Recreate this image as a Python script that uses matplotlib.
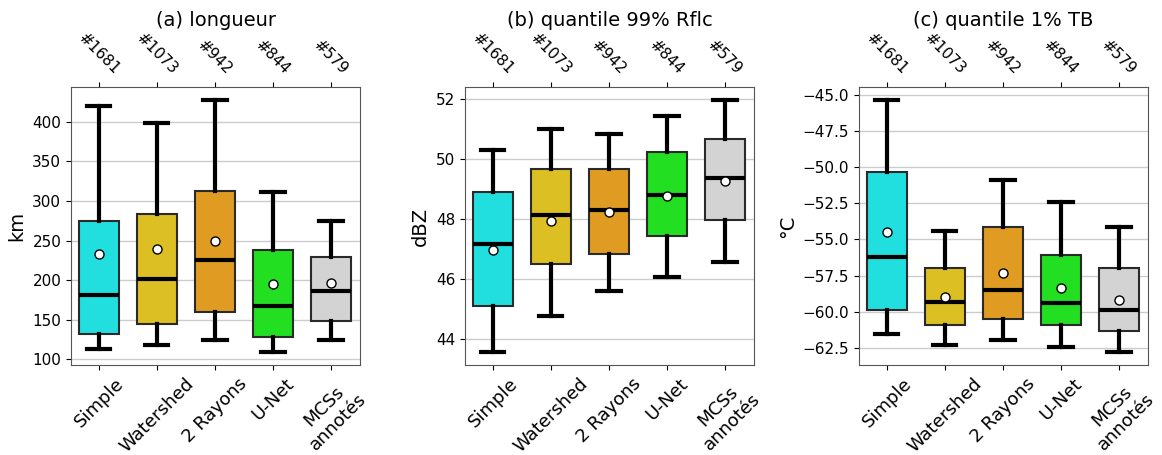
import numpy as np
import matplotlib
matplotlib.use("Agg")
import matplotlib.pyplot as plt

methods = ["Simple", "Watershed", "2 Rayons", "U-Net", "MCSs\nannotés"]
counts = ["#1681", "#1073", "#942", "#844", "#579"]
colors = ["#22dfdf", "#dcbf22", "#df9b22", "#22df22", "#d3d3d3"]

# whislo, q1, med, q3, whishi, mean
long_lo = [113, 118, 124, 109, 125]
long_q1 = [132, 145, 160, 128, 149]
long_med = [182, 202, 226, 167, 187]
long_q3 = [275, 284, 313, 238, 229]
long_hi = [420, 398, 428, 311, 275]
long_mean = [233, 240, 250, 195, 196]

rf_lo = [43.55, 44.75, 45.6, 46.07, 46.55]
rf_q1 = [45.1, 46.5, 46.83, 47.43, 47.97]
rf_med = [47.15, 48.12, 48.3, 48.8, 49.35]
rf_q3 = [48.9, 49.65, 49.68, 50.22, 50.66]
rf_hi = [50.3, 51.0, 50.85, 51.42, 51.98]
rf_mean = [46.97, 47.92, 48.23, 48.78, 49.28]

tb_lo = [-61.5, -62.3, -61.95, -62.4, -62.8]
tb_q1 = [-59.9, -60.9, -60.5, -60.9, -61.35]
tb_med = [-56.2, -59.35, -58.5, -59.4, -59.9]
tb_q3 = [-50.35, -56.95, -54.15, -56.05, -57.0]
tb_hi = [-45.35, -54.45, -50.9, -52.4, -54.15]
tb_mean = [-54.5, -58.95, -57.3, -58.35, -59.2]

panels = [
    ("(a) longueur", "km", long_lo, long_q1, long_med, long_q3, long_hi, long_mean),
    ("(b) quantile 99% Rflc", "dBZ", rf_lo, rf_q1, rf_med, rf_q3, rf_hi, rf_mean),
    ("(c) quantile 1% TB", "°C", tb_lo, tb_q1, tb_med, tb_q3, tb_hi, tb_mean),
]

W, H = 1162, 455
fig = plt.figure(figsize=(W / 100, H / 100), dpi=100)
lefts = [71, 465, 859]

for left, (title, ylab, lo, q1, med, q3, hi, mean) in zip(lefts, panels):
    ax = fig.add_axes([left / W, (H - 365) / H, 289 / W, 278 / H])
    stats = []
    for i in range(len(methods)):
        stats.append(dict(whislo=lo[i], q1=q1[i], med=med[i], q3=q3[i],
                          whishi=hi[i], mean=mean[i], fliers=[], label=methods[i]))
    bp = ax.bxp(stats, positions=range(len(methods)), widths=0.7, capwidths=0.4,
                showmeans=True, patch_artist=True,
                boxprops=dict(edgecolor="#2a2a2a", linewidth=1.5),
                whiskerprops=dict(color="black", linewidth=3),
                capprops=dict(color="black", linewidth=3),
                medianprops=dict(color="black", linewidth=3),
                meanprops=dict(marker="o", markerfacecolor="white",
                               markeredgecolor="black", markersize=6.5))
    for patch, c in zip(bp["boxes"], colors):
        patch.set_facecolor(c)
    ax.set_xlim(-0.48, 4.5)
    ax.yaxis.grid(True, color="#cccccc", linewidth=1)
    ax.set_axisbelow(True)
    for s in ax.spines.values():
        s.set_color("#555555")
    ax.set_xticks(range(len(methods)))
    ax.set_xticklabels(methods, rotation=45, ha="center", multialignment="center",
                       fontsize=13)
    ax.tick_params(axis="y", labelsize=11)
    ax.set_ylabel(ylab, fontsize=14)
    top = ax.secondary_xaxis("top")
    top.set_xticks(range(len(methods)))
    top.set_xticklabels(counts, rotation=-45, ha="center", fontsize=11)
    top.spines["top"].set_visible(False)
    ax.set_title(title, fontsize=14, pad=3)

fig.savefig("out.png", dpi=100)
